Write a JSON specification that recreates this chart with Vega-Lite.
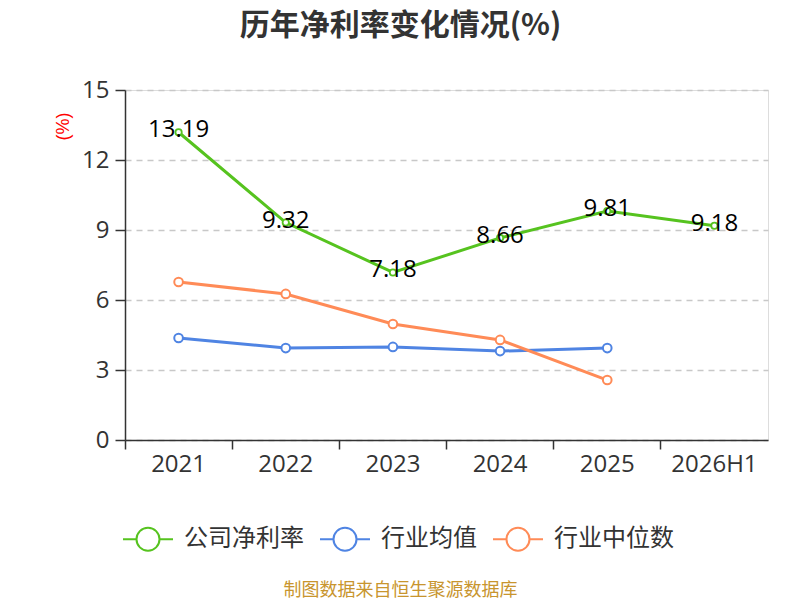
{
  "$schema": "https://vega.github.io/schema/vega-lite/v6.json",
  "description": "历年净利率变化情况(%)",
  "autosize": {"type": "none"},
  "padding": {"left": 125, "top": 90, "right": 32, "bottom": 160},
  "width": 643,
  "height": 350,
  "background": "white",
  "title": {
    "text": "历年净利率变化情况(%)",
    "fontSize": 30,
    "fontWeight": "bold",
    "color": "#333333",
    "font": "Noto Sans CJK SC",
    "anchor": "middle",
    "dx": -46,
    "offset": 37
  },
  "data": {
    "values": [
      {"year": "2021", "series": "公司净利率", "value": 13.19},
      {"year": "2022", "series": "公司净利率", "value": 9.32},
      {"year": "2023", "series": "公司净利率", "value": 7.18},
      {"year": "2024", "series": "公司净利率", "value": 8.66},
      {"year": "2025", "series": "公司净利率", "value": 9.81},
      {"year": "2026H1", "series": "公司净利率", "value": 9.18},
      {"year": "2021", "series": "行业均值", "value": 4.37},
      {"year": "2022", "series": "行业均值", "value": 3.94},
      {"year": "2023", "series": "行业均值", "value": 3.99},
      {"year": "2024", "series": "行业均值", "value": 3.81},
      {"year": "2025", "series": "行业均值", "value": 3.94},
      {"year": "2021", "series": "行业中位数", "value": 6.77},
      {"year": "2022", "series": "行业中位数", "value": 6.26},
      {"year": "2023", "series": "行业中位数", "value": 4.97},
      {"year": "2024", "series": "行业中位数", "value": 4.29},
      {"year": "2025", "series": "行业中位数", "value": 2.57}
    ]
  },
  "encoding": {
    "x": {
      "field": "year",
      "type": "nominal",
      "sort": null,
      "scale": {"type": "band", "paddingInner": 0, "paddingOuter": 0},
      "axis": {
        "title": "制图数据来自恒生聚源数据库",
        "titleColor": "#c8952e",
        "titleFontSize": 18,
        "titleFontWeight": "normal",
        "titleFont": "Noto Sans CJK SC",
        "titleX": 275,
        "titleY": 150,
        "titleBaseline": "middle",
        "labelAngle": 0,
        "labelFontSize": 24,
        "labelColor": "#333333",
        "labelFont": "Open Sans",
        "labelPadding": 3,
        "bandPosition": 0,
        "tickColor": "#333333",
        "tickSize": 9,
        "tickWidth": 1.5,
        "domainColor": "#333333",
        "domainWidth": 1.5,
        "grid": false
      }
    },
    "y": {
      "field": "value",
      "type": "quantitative",
      "scale": {"domain": [0, 15]},
      "axis": {
        "title": "(%)",
        "titleColor": "red",
        "titleFontSize": 18,
        "titleFontWeight": "normal",
        "titleX": -62,
        "titleY": 36,
        "titleAlign": "center",
        "titleBaseline": "middle",
        "values": [0, 3, 6, 9, 12, 15],
        "labelFontSize": 24,
        "labelColor": "#333333",
        "labelFont": "Open Sans",
        "labelPadding": 6,
        "tickColor": "#333333",
        "tickSize": 10,
        "tickWidth": 1.5,
        "domainColor": "#333333",
        "domainWidth": 1.5,
        "gridColor": "#c8c8c8",
        "gridDash": [6, 5],
        "gridWidth": 1.5
      }
    }
  },
  "layer": [
    {
      "mark": {"type": "line", "strokeWidth": 3},
      "encoding": {
        "color": {
          "field": "series",
          "type": "nominal",
          "scale": {
            "domain": ["公司净利率", "行业均值", "行业中位数"],
            "range": ["#56c31f", "#4f84e3", "#ff8b57"]
          },
          "legend": {
            "title": null,
            "orient": "none",
            "direction": "horizontal",
            "legendX": -3,
            "legendY": 423,
            "symbolType": "M-1,0L-0.46,0M0.46,0L1,0M-0.46,0A0.46,0.46 0 1,0 0.46,0A0.46,0.46 0 1,0 -0.46,0",
            "symbolSize": 2500,
            "symbolStrokeWidth": 2,
            "symbolFillColor": "white",
            "labelFontSize": 24,
            "labelColor": "#333333",
            "labelFont": "Noto Sans CJK SC",
            "labelOffset": 10,
            "columnPadding": 12
          }
        }
      }
    },
    {
      "transform": [{"filter": "datum.series != '公司净利率'"}],
      "mark": {"type": "point", "filled": false, "fill": "white", "size": 75, "strokeWidth": 2, "opacity": 1},
      "encoding": {
        "color": {"field": "series", "type": "nominal", "legend": null}
      }
    },
    {
      "transform": [{"filter": "datum.series == '公司净利率'"}],
      "mark": {"type": "point", "filled": false, "fill": "white", "size": 40, "strokeWidth": 1.8, "opacity": 1},
      "encoding": {
        "color": {"field": "series", "type": "nominal", "legend": null}
      }
    },
    {
      "transform": [{"filter": "datum.series == '公司净利率'"}],
      "mark": {
        "type": "text",
        "fontSize": 24,
        "color": "black",
        "font": "Open Sans",
        "baseline": "middle",
        "dy": -2
      },
      "encoding": {
        "text": {"field": "value", "type": "quantitative", "format": ".2f"}
      }
    }
  ]
}
